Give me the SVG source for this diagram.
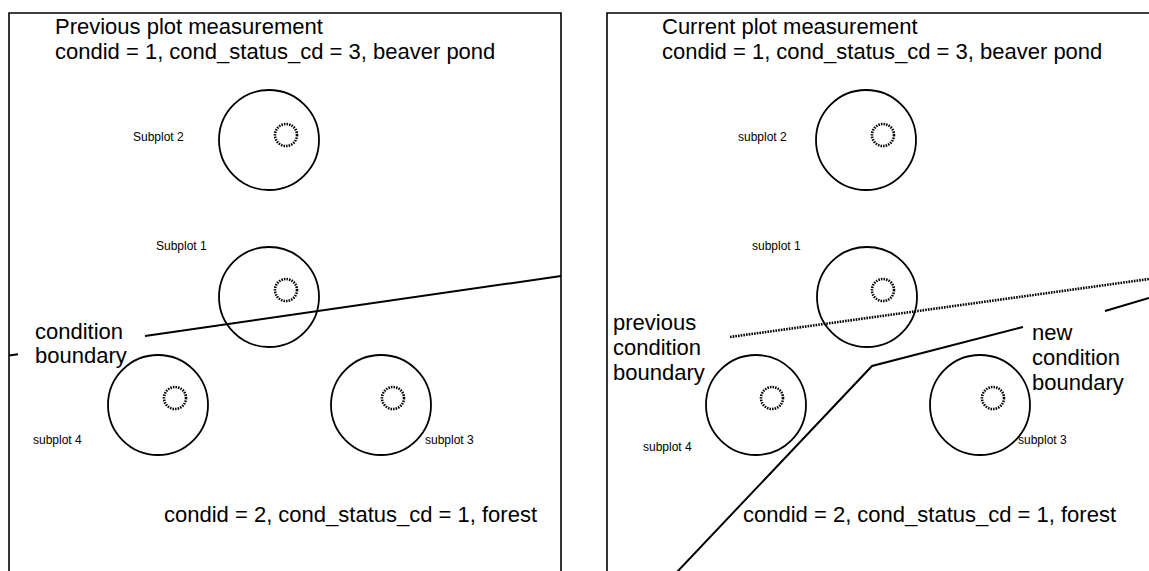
<svg xmlns="http://www.w3.org/2000/svg" width="1149" height="571" viewBox="0 0 1149 571">
  <style>
    .frame{fill:none;stroke:#000;stroke-width:1.6}
    .plot{fill:none;stroke:#000;stroke-width:1.8}
    .micro{fill:none;stroke:#000;stroke-width:2.6;stroke-dasharray:1.5 1.1}
    .big{font-family:"Liberation Sans",Arial,sans-serif;font-size:22px;fill:#000}
    .small{font-family:"Liberation Sans",Arial,sans-serif;font-size:12px;fill:#000}
    .bound{fill:none;stroke:#000;stroke-width:2}
    .prev{fill:none;stroke:#000;stroke-width:2.6;stroke-dasharray:1.6 1.1}
  </style>
  <rect width="1149" height="571" fill="#fff"/>

  <!-- previous measurement panel -->
  <g id="panel-previous">
    <path class="frame" d="M9,572 V13 H561 V572"/>
    <text class="big" x="55" y="34">Previous plot measurement</text>
    <text class="big" x="55" y="59">condid = 1, cond_status_cd = 3, beaver pond</text>
    <text class="big" x="164" y="522">condid = 2, cond_status_cd = 1, forest</text>
  </g>
  <g id="prev-subplot2">
    <circle class="plot" cx="269" cy="140" r="50"/>
    <circle class="micro" cx="286" cy="135" r="11"/>
    <text class="small" x="133" y="141">Subplot 2</text>
  </g>
  <g id="prev-subplot1">
    <circle class="plot" cx="269" cy="297" r="50"/>
    <circle class="micro" cx="286" cy="290" r="11"/>
    <text class="small" x="156" y="250">Subplot 1</text>
  </g>
  <g id="prev-subplot4">
    <circle class="plot" cx="158" cy="405" r="50"/>
    <circle class="micro" cx="175" cy="398" r="11"/>
    <text class="small" x="33" y="444">subplot 4</text>
  </g>
  <g id="prev-subplot3">
    <circle class="plot" cx="381" cy="405" r="50"/>
    <circle class="micro" cx="393" cy="398" r="11"/>
    <text class="small" x="425" y="444">subplot 3</text>
  </g>
  <g id="prev-boundary-label">
    <text class="big" x="35" y="339">condition</text>
    <text class="big" x="35" y="363">boundary</text>
  </g>

  <!-- current measurement panel -->
  <g id="panel-current">
    <path class="frame" d="M607,572 V13 H1150"/>
    <text class="big" x="662" y="34">Current plot measurement</text>
    <text class="big" x="662" y="59">condid = 1, cond_status_cd = 3, beaver pond</text>
    <text class="big" x="743" y="522">condid = 2, cond_status_cd = 1, forest</text>
  </g>
  <g id="cur-subplot2">
    <circle class="plot" cx="866" cy="140" r="50"/>
    <circle class="micro" cx="883" cy="135" r="11"/>
    <text class="small" x="738" y="141">subplot 2</text>
  </g>
  <g id="cur-subplot1">
    <circle class="plot" cx="867" cy="297" r="50"/>
    <circle class="micro" cx="883" cy="290" r="11"/>
    <text class="small" x="752" y="250">subplot 1</text>
  </g>
  <g id="cur-subplot4">
    <circle class="plot" cx="756" cy="405" r="50"/>
    <circle class="micro" cx="772" cy="398" r="11"/>
    <text class="small" x="643" y="451">subplot 4</text>
  </g>
  <g id="cur-subplot3">
    <circle class="plot" cx="980" cy="405" r="50"/>
    <circle class="micro" cx="993" cy="398" r="11"/>
    <text class="small" x="1018" y="444">subplot 3</text>
  </g>
  <g id="cur-prev-label">
    <text class="big" x="613" y="330">previous</text>
    <text class="big" x="613" y="355">condition</text>
    <text class="big" x="613" y="380">boundary</text>
  </g>
  <g id="cur-new-label">
    <text class="big" x="1032" y="340">new</text>
    <text class="big" x="1032" y="365">condition</text>
    <text class="big" x="1032" y="390">boundary</text>
  </g>

  <!-- condition boundaries -->
  <g id="connectors">
    <path class="bound" d="M9,355.6 L18,354.3 M145,336 L561,276"/>
    <path class="prev" d="M730,337 L1149,279"/>
    <path class="bound" d="M677,572 L872,366 L1023,327 M1105,311 L1149,298"/>
  </g>
</svg>
